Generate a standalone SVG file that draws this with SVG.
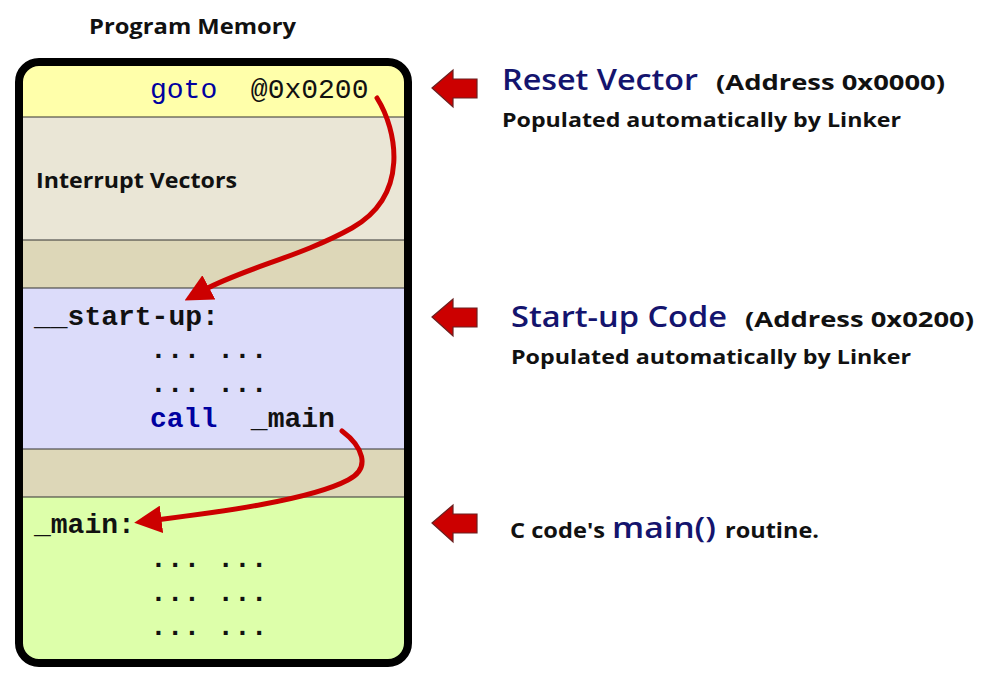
<svg xmlns="http://www.w3.org/2000/svg" width="982" height="673" viewBox="0 0 982 673">
<defs>
<style>
.mono{font-family:"Liberation Mono","Courier New",monospace;font-size:28px;fill:#111}
.kw{fill:#0000A0}
.sans{font-family:"Open Sans",Lato,"Liberation Sans",sans-serif;font-weight:bold;fill:#111}
.title{fill:#14146E;font-weight:600}
.sep{stroke:#333;stroke-width:1.2}
.curve{fill:none;stroke:#CC0000;stroke-width:5;stroke-linecap:round}
.blk{fill:#CC0000;stroke:#6a2020;stroke-width:1.2}
</style>
<clipPath id="mem"><rect x="21" y="64" width="385" height="597" rx="18"/></clipPath>
<marker id="ah" viewBox="0 0 10 10" refX="2" refY="5" markerWidth="5.5" markerHeight="5.5" orient="auto" markerUnits="strokeWidth"><path d="M0,0 L10,5 L0,10 z" fill="#CC0000"/></marker>
<path id="blockArrow" d="M0,0 L21,-18 L21,-9 L45,-9 L45,10 L21,10 L21,19 z"/>
</defs>
<rect width="982" height="673" fill="#fff"/>
<text class="sans" x="89" y="34" font-size="21" textLength="207" lengthAdjust="spacingAndGlyphs">Program Memory</text>
<g id="memory">
<g clip-path="url(#mem)">
<rect id="reset" x="21" y="64" width="385" height="53" fill="#FFFFAA"/>
<rect id="interrupt" x="21" y="117" width="385" height="123" fill="#EAE6D6"/>
<rect x="21" y="240" width="385" height="48" fill="#DDD7B8"/>
<rect id="startup" x="21" y="288" width="385" height="161" fill="#DCDCFA"/>
<rect x="21" y="449" width="385" height="48" fill="#DDD7B8"/>
<rect id="main" x="21" y="497" width="385" height="164" fill="#DDFFAA"/>
</g>
<line class="sep" x1="21" y1="117" x2="406" y2="117"/>
<line class="sep" x1="21" y1="240" x2="406" y2="240"/>
<line class="sep" x1="21" y1="288" x2="406" y2="288"/>
<line class="sep" x1="21" y1="449" x2="406" y2="449"/>
<line class="sep" x1="21" y1="497" x2="406" y2="497"/>
<rect x="19" y="62" width="389" height="601" rx="20" fill="none" stroke="#000" stroke-width="8"/>
</g>
<g id="code">
<text class="mono" x="150" y="98" xml:space="preserve"><tspan class="kw">goto</tspan>  @0x0200</text>
<text class="sans" x="36" y="188" font-size="21" textLength="201" lengthAdjust="spacingAndGlyphs">Interrupt Vectors</text>
<text class="mono" x="34" y="325" font-weight="bold">__start-up:</text>
<text class="mono" x="150" y="358" font-weight="bold">... ...</text>
<text class="mono" x="150" y="392" font-weight="bold">... ...</text>
<text class="mono" x="150" y="427" font-weight="bold" xml:space="preserve"><tspan class="kw">call</tspan>  _main</text>
<text class="mono" x="34" y="533" font-weight="bold">_main:</text>
<text class="mono" x="150" y="567" font-weight="bold">... ...</text>
<text class="mono" x="150" y="601" font-weight="bold">... ...</text>
<text class="mono" x="150" y="635" font-weight="bold">... ...</text>
</g>
<g id="connectors">
<path class="curve" d="M377,98 C397,130 410,195 352,228 C302,256 245,268 204,290" marker-end="url(#ah)"/>
<path class="curve" d="M342,431 C362,446 372,468 348,480 C310,500 220,512 156,520" marker-end="url(#ah)"/>
</g>
<g id="label-reset">
<use href="#blockArrow" x="432" y="88" class="blk"/>
<text x="502" y="90" class="sans title" font-size="28" textLength="196" lengthAdjust="spacingAndGlyphs">Reset Vector</text>
<text x="716" y="90" class="sans" font-size="22" textLength="229" lengthAdjust="spacingAndGlyphs">(Address 0x0000)</text>
<text x="502" y="127" class="sans" font-size="20" textLength="399" lengthAdjust="spacingAndGlyphs">Populated automatically by Linker</text>
</g>
<g id="label-startup">
<use href="#blockArrow" x="432" y="317" class="blk"/>
<text x="511" y="327" class="sans title" font-size="28" textLength="216" lengthAdjust="spacingAndGlyphs">Start-up Code</text>
<text x="745" y="327" class="sans" font-size="22" textLength="229" lengthAdjust="spacingAndGlyphs">(Address 0x0200)</text>
<text x="511" y="364" class="sans" font-size="20" textLength="400" lengthAdjust="spacingAndGlyphs">Populated automatically by Linker</text>
</g>
<g id="label-main">
<use href="#blockArrow" x="432" y="523" class="blk"/>
<text x="510" y="538" class="sans" font-size="21" textLength="95" lengthAdjust="spacingAndGlyphs">C code's</text>
<text x="612" y="538" class="sans title" font-size="29" textLength="104" lengthAdjust="spacingAndGlyphs">main()</text>
<text x="725" y="538" class="sans" font-size="21" textLength="94" lengthAdjust="spacingAndGlyphs">routine.</text>
</g>
</svg>
